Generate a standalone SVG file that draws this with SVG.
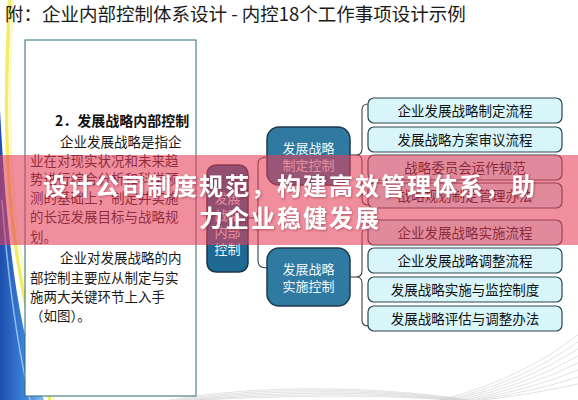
<svg xmlns="http://www.w3.org/2000/svg" width="578" height="400" viewBox="0 0 578 400">
<defs>
<style>
text{font-family:"Noto Sans CJK SC","Noto Sans",sans-serif;}
.title{font-size:18.5px;fill:#1a1a1a;}
.body{font-size:13.5px;fill:#1a1a1a;}
.head{font-size:14px;font-weight:bold;fill:#111;}
.item rect{fill:#d8f6fa;stroke:#2c4650;stroke-width:1.2;}
.item text{font-size:13.5px;fill:#111;text-anchor:middle;}
.mid rect{fill:#3079a1;stroke:#1c3a4c;stroke-width:1.5;}
.mid text,.root text{font-size:13px;fill:#f2fafd;text-anchor:middle;}
.root rect{fill:#1f6a94;stroke:#1a3448;stroke-width:1.5;}
.conn path{fill:none;stroke:#3a4248;stroke-width:1.1;}
.wave path{fill:none;stroke:#cfcfcf;stroke-width:0.6;}
.banner text{font-size:24px;font-weight:bold;fill:#ffffff;text-anchor:middle;letter-spacing:2px;}
</style>
<linearGradient id="blue" x1="0" y1="0" x2="1" y2="0">
<stop offset="0" stop-color="#1d4fae"/>
<stop offset="0.6" stop-color="#3f86dc"/>
<stop offset="1" stop-color="#8cc0f0"/>
</linearGradient>
<filter id="sh" x="-5%" y="-20%" width="110%" height="140%">
<feDropShadow dx="1" dy="1" stdDeviation="0.8" flood-color="#7a2030" flood-opacity="0.5"/>
</filter>
</defs>
<rect x="0" y="0" width="578" height="400" fill="#ffffff"/>
<g id="decor">
<path d="M0,110 C6,220 14,320 44,400 L0,400 Z" fill="url(#blue)"/>
<path d="M2,200 C8,280 16,340 30,400" fill="none" stroke="#a8d0f5" stroke-width="1.5" opacity="0.8"/>
<path d="M10,0 C2,130 4,250 50,400" fill="none" stroke="#f2ec6a" stroke-width="3.5"/>
<path d="M13,0 C6,130 8,250 54,400" fill="none" stroke="#fbf8c0" stroke-width="2"/>
<g class="wave">
<path d="M170,400 C250,386 360,384 470,400"/>
<path d="M176,400 C256,388 362,386 466,400"/>
<path d="M182,400 C262,390 364,388 462,400"/>
<path d="M188,400 C268,392 366,390 458,400"/>
<path d="M194,400 C274,394 368,392 454,400"/>
<path d="M200,400 C280,396 370,394 450,400"/>
<path d="M440,400 Q520,380 578,335"/>
<path d="M446,400 Q522,382 578,342"/>
<path d="M452,400 Q524,384 578,349"/>
<path d="M458,400 Q526,386 578,356"/>
<path d="M464,400 Q528,388 578,363"/>
<path d="M470,400 Q530,390 578,370"/>
<path d="M476,400 Q532,392 578,377"/>
<path d="M482,400 Q534,394 578,384"/>
</g>
</g>
<text class="title" x="5" y="21">附：企业内部控制体系设计 - 内控18个工作事项设计示例</text>
<g id="textbox">
<rect x="25" y="40" width="171" height="356" fill="#ffffff" stroke="#2a6a78" stroke-width="1"/>
<text class="head" x="55" y="126">2．发展战略内部控制</text>
<text class="body" x="60" y="147">企业发展战略是指企</text>
<text class="body" x="30" y="166">业在对现实状况和未来趋</text>
<text class="body" x="30" y="184">势进行综合分析和科学预</text>
<text class="body" x="30" y="203">测的基础上，制定并实施</text>
<text class="body" x="30" y="222">的长远发展目标与战略规</text>
<text class="body" x="30" y="242">划。</text>
<text class="body" x="60" y="263">企业对发展战略的内</text>
<text class="body" x="30" y="283">部控制主要应从制定与实</text>
<text class="body" x="30" y="302">施两大关键环节上入手</text>
<text class="body" x="30" y="321">（如图）。</text>
</g>
<g id="connectors" class="conn">
<path d="M248,218 L252,218"/>
<path d="M267,157 Q258,157 258,164 L258,211 Q258,218 252,218 Q258,218 258,225 L258,261 Q258,268 267,268"/>
<path d="M350,155 L356,155"/>
<path d="M368,104 Q362,104 362,110 L362,149 Q362,155 356,155 Q362,155 362,161 L362,199 Q362,205 368,205"/>
<path d="M350,277 L356,277"/>
<path d="M368,228 Q362,228 362,234 L362,271 Q362,277 356,277 Q362,277 362,283 L362,320 Q362,326 368,326"/>
</g>
<g id="root" class="root">
<rect x="207" y="165" width="41" height="107" rx="9"/>
<text x="227.5" y="203">发展</text>
<text x="227.5" y="220">战略</text>
<text x="227.5" y="237">内部</text>
<text x="227.5" y="254">控制</text>
</g>
<g id="n-formulate" class="mid">
<rect x="267" y="127" width="83" height="58" rx="12"/>
<text x="308.5" y="152.5">发展战略</text>
<text x="308.5" y="169.5">制定控制</text>
</g>
<g id="n-implement" class="mid">
<rect x="267" y="248" width="83" height="58" rx="12"/>
<text x="308.5" y="273.5">发展战略</text>
<text x="308.5" y="290.5">实施控制</text>
</g>
<g id="i1" class="item"><rect x="368" y="98" width="194" height="25" rx="6"/><text x="465" y="115.5">企业发展战略制定流程</text></g>
<g id="i2" class="item"><rect x="368" y="127" width="194" height="25" rx="6"/><text x="465" y="144.5">发展战略方案审议流程</text></g>
<g id="i3" class="item"><rect x="368" y="155" width="194" height="25" rx="6"/><text x="465" y="172.5">战略委员会运作规范</text></g>
<g id="i4" class="item"><rect x="368" y="183" width="194" height="25" rx="6"/><text x="465" y="200.5">战略规划制定管理办法</text></g>
<g id="i5" class="item"><rect x="368" y="220" width="194" height="25" rx="6"/><text x="465" y="237.5">企业发展战略实施流程</text></g>
<g id="i6" class="item"><rect x="368" y="248" width="194" height="25" rx="6"/><text x="465" y="265.5">企业发展战略调整流程</text></g>
<g id="i7" class="item"><rect x="368" y="277" width="194" height="25" rx="6"/><text x="465" y="294.5">发展战略实施与监控制度</text></g>
<g id="i8" class="item"><rect x="368" y="306" width="194" height="25" rx="6"/><text x="465" y="323.5">发展战略评估与调整办法</text></g>
<g id="banner" class="banner">
<rect x="0" y="155" width="578" height="90" fill="#e63c58" opacity="0.58"/>
<text x="290" y="195" filter="url(#sh)">设计公司制度规范，构建高效管理体系，助</text>
<text x="290" y="227" filter="url(#sh)">力企业稳健发展</text>
</g>
</svg>
